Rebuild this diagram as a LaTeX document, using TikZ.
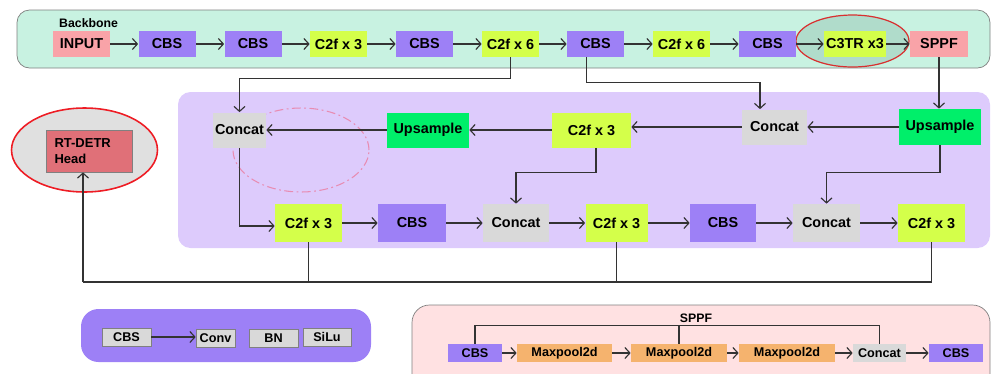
\documentclass[tikz,border=0pt]{standalone}
\usepackage{fontspec}
\setmainfont{Liberation Sans}
\usetikzlibrary{arrows.meta}

\definecolor{mint}{HTML}{C8F2E1}
\definecolor{ringfill}{HTML}{B0DCCB}
\definecolor{lavender}{HTML}{DDCBFC}
\definecolor{cbspurple}{HTML}{9D80F6}
\definecolor{limey}{HTML}{D4FF4A}
\definecolor{lightgray}{HTML}{D9D9D9}
\definecolor{upgreen}{HTML}{00EF6A}
\definecolor{inpink}{HTML}{F9A3A8}
\definecolor{poolorange}{HTML}{F5B36E}
\definecolor{sppfbg}{HTML}{FFE1E2}
\definecolor{headred}{HTML}{E07078}
\definecolor{ringred}{HTML}{D83030}
\definecolor{headring}{HTML}{EE1C24}
\definecolor{dashpink}{HTML}{E88CB2}
\definecolor{linegray}{HTML}{333333}

\begin{document}
\begin{tikzpicture}
        [   x=0.02cm, y=-0.02cm,
            Box/.style=
            {rectangle, inner sep=0pt,
            font=\fontsize{8.2}{9.5}\selectfont\bfseries},
            SmallBox/.style=
            {rectangle, inner sep=0pt, minimum height=0.36cm,
            font=\fontsize{7.2}{8}\selectfont\bfseries},
            boxw/.style={minimum width=#1*0.02cm},
            boxh/.style={minimum height=#1*0.02cm},
            CBSNode/.style={Box, fill=cbspurple},
            C2fNode/.style={Box, fill=limey},
            ConcatNode/.style={Box, fill=lightgray},
            UpNode/.style={Box, fill=upgreen},
            PinkNode/.style={Box, fill=inpink},
            PoolNode/.style={SmallBox, fill=poolorange},
            LegendNode/.style={SmallBox, fill=lightgray, draw=gray, thin},
            arr/.style={-{Straight Barb[length=1mm, width=2.2mm]}, line width=0.65pt, draw=linegray},
            wire/.style={line width=0.65pt, draw=linegray}
        ]
            \useasboundingbox (0,0) rectangle (991,373);

            % panels
            \draw[rounded corners=0.25cm, fill=mint, draw=gray] (17,10) rectangle (990,68);
            \fill[rounded corners=0.25cm, lavender] (178,92) rectangle (990,248);
            \fill[rounded corners=0.35cm, cbspurple] (81,309) rectangle (371,362);
            \draw[rounded corners=0.35cm, fill=sppfbg, draw=gray] (412,305) rectangle (990,400);
            \node[anchor=west, font=\fontsize{7}{8}\selectfont\bfseries] (bbtitle) at (53,23) {Backbone};

            % rings behind
            \draw[ringred, line width=0.7pt, fill=ringfill] (852.5,41) ellipse [x radius=1.13cm, y radius=0.52cm];
            \draw[headring, line width=0.9pt, fill=black!12] (84.5,150) ellipse [x radius=1.46cm, y radius=0.84cm];
            \draw[dashpink, dash pattern=on 5pt off 2pt on 1pt off 2pt, line width=0.6pt]
                (301,150) ellipse [x radius=1.36cm, y radius=0.84cm];

            % backbone
            \node[PinkNode, boxw=57, boxh=26] (input) at (81.5,44) {INPUT};
            \node[CBSNode, boxw=57, boxh=26] (cbs1) at (167,44) {CBS};
            \node[CBSNode, boxw=57, boxh=26] (cbs2) at (253,44) {CBS};
            \node[C2fNode, boxw=57, boxh=26] (c2f1) at (338.5,44) {C2f x 3};
            \node[CBSNode, boxw=57, boxh=26] (cbs3) at (424.5,44) {CBS};
            \node[C2fNode, boxw=57, boxh=26] (c2f2) at (510.5,44) {C2f x 6};
            \node[CBSNode, boxw=57, boxh=26] (cbs4) at (595.5,44) {CBS};
            \node[C2fNode, boxw=57, boxh=26] (c2f3) at (681.5,44) {C2f x 6};
            \node[CBSNode, boxw=57, boxh=26] (cbs5) at (767.5,44) {CBS};
            \node[C2fNode, boxw=62, boxh=26] (c3tr) at (855,44) {C3TR x3};
            \node[PinkNode, boxw=58, boxh=26] (sppf) at (939,44) {SPPF};

            \foreach \a/\b in {input/cbs1, cbs1/cbs2, cbs2/c2f1, c2f1/cbs3, cbs3/c2f2,
                               c2f2/cbs4, cbs4/c2f3, c2f3/cbs5, cbs5/c3tr, c3tr/sppf}
                \draw[arr] (\a) -- (\b);

            % neck
            \node[ConcatNode, boxw=53, boxh=35] (cat1) at (239.5,130) {Concat};
            \node[UpNode, boxw=82, boxh=35] (up1) at (428,130) {Upsample};
            \node[C2fNode, boxw=79, boxh=35] (c2ft) at (591.5,130) {C2f x 3};
            \node[ConcatNode, boxw=65, boxh=35] (cat2) at (774.5,127) {Concat};
            \node[UpNode, boxw=82, boxh=36] (up2) at (940,127) {Upsample};

            \node[C2fNode, boxw=67, boxh=38] (c2fa) at (308.5,223) {C2f x 3};
            \node[CBSNode, boxw=68, boxh=38] (cbsa) at (412,223) {CBS};
            \node[ConcatNode, boxw=66, boxh=38] (cata) at (516,223) {Concat};
            \node[C2fNode, boxw=62, boxh=38] (c2fb) at (616.5,223) {C2f x 3};
            \node[CBSNode, boxw=66, boxh=38] (cbsb) at (723,223) {CBS};
            \node[ConcatNode, boxw=67, boxh=38] (catb) at (826.5,223) {Concat};
            \node[C2fNode, boxw=67, boxh=38] (c2fc) at (931.5,223) {C2f x 3};

            \draw[arr] (c2f2.south) -- ++(0,21) -| (cat1.north);
            \draw[arr] ([xshift=-0.18cm]cbs4.south) -- ++(0,25) -| ([xshift=-0.29cm]cat2.north);
            \draw[arr] (sppf.south) -- (sppf.south |- up2.north);
            \draw[arr] (up2) -- (cat2);
            \draw[arr] (cat2.west) -- (cat2.west -| c2ft.east);
            \draw[arr] (c2ft) -- (up1);
            \draw[arr] (up1) -- (cat1);
            \draw[arr] (cat1.south) |- ([yshift=-0.06cm]c2fa.west);
            \draw[arr] ([xshift=0.09cm]c2ft.south) -- ++(0,25) -| (cata.north);
            \draw[arr] (up2.south) -- ++(0,27) -| (catb.north);
            \foreach \a/\b in {c2fa/cbsa, cbsa/cata, cata/c2fb, c2fb/cbsb, cbsb/catb, catb/c2fc}
                \draw[arr] (\a) -- (\b);

            % head
            \node[Box, fill=headred, draw=gray, boxw=86, boxh=42, text width=1.38cm, align=left,
                  font=\fontsize{7.4}{8.8}\selectfont\bfseries] (head) at (89,151) {RT-DETR\\Head};
            \coordinate (bus) at (83,282);
            \draw[wire] (c2fc.south) |- (bus);
            \draw[wire] (c2fa.south) -- (c2fa.south |- bus);
            \draw[wire] (c2fb.south) -- (c2fb.south |- bus);
            \draw[arr] (bus) -- (bus |- head.south);

            % CBS legend
            \node[LegendNode, boxw=49] (lcbs) at (126.5,337) {CBS};
            \node[LegendNode, boxw=39] (conv) at (215.5,338) {Conv};
            \node[LegendNode, boxw=49] (bn) at (273.5,338) {BN};
            \node[LegendNode, boxw=48] (silu) at (327,337) {SiLu};
            \draw[arr] (lcbs.east) -- (lcbs.east -| conv.west);

            % SPPF legend
            \node[font=\fontsize{7}{8}\selectfont\bfseries] (sppftitle) at (696,318) {SPPF};
            \node[SmallBox, fill=cbspurple, boxw=54] (scbs1) at (475,353) {CBS};
            \node[PoolNode, boxw=95] (mp1) at (564.5,353) {Maxpool2d};
            \node[PoolNode, boxw=96] (mp2) at (679,353) {Maxpool2d};
            \node[PoolNode, boxw=96] (mp3) at (787,353) {Maxpool2d};
            \node[SmallBox, fill=lightgray, boxw=53] (scat) at (879.5,353) {Concat};
            \node[SmallBox, fill=cbspurple, boxw=54] (scbs2) at (956,353) {CBS};
            \foreach \a/\b in {scbs1/mp1, mp1/mp2, mp2/mp3, mp3/scat, scat/scbs2}
                \draw[arr] (\a) -- (\b);
            \draw[wire] (scbs1.north) -- ++(0,-18) -| (scat.north);
            \draw[wire] (mp2.north) -- ++(0,-18);
    \end{tikzpicture}
\end{document}
